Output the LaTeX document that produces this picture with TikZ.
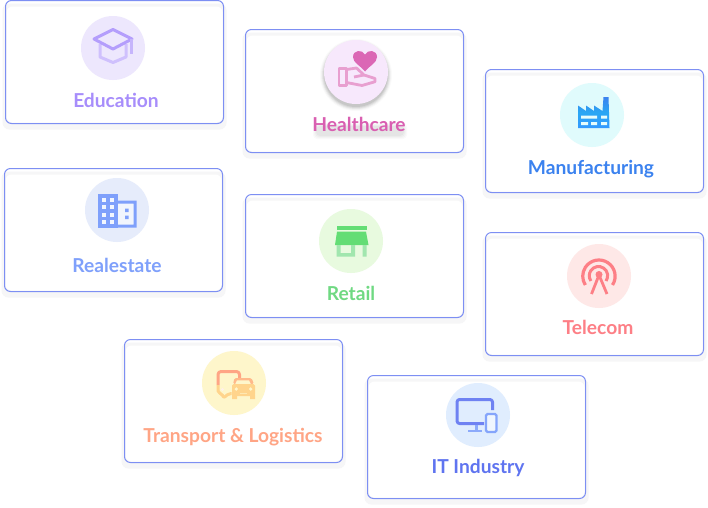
\documentclass[tikz,border=0pt]{standalone}
\usepackage{fontspec}
\setmainfont{Lato}
\definecolor{cardblue}{HTML}{7D8FF3}
\definecolor{halo}{HTML}{F6F6F7}
\definecolor{discEdu}{HTML}{EDE7FD}
\definecolor{discHea}{HTML}{F7E8FC}
\definecolor{discMan}{HTML}{E0FBFC}
\definecolor{discRea}{HTML}{E6ECFB}
\definecolor{discRet}{HTML}{E8FADF}
\definecolor{discTel}{HTML}{FEE8E7}
\definecolor{discTra}{HTML}{FEF6CB}
\definecolor{discIT}{HTML}{E0EDFE}
\definecolor{txtEdu}{HTML}{A78DFB}
\definecolor{txtHea}{HTML}{D95FB1}
\definecolor{txtMan}{HTML}{3B82EF}
\definecolor{txtRea}{HTML}{7FA0FB}
\definecolor{txtRet}{HTML}{6FD982}
\definecolor{txtTel}{HTML}{FD7F86}
\definecolor{txtTra}{HTML}{FFA585}
\definecolor{txtIT}{HTML}{5F74F0}
\definecolor{carTop}{HTML}{FFB98A}
\definecolor{carLow}{HTML}{FFD48C}
\tikzset{
  cardline/.style={draw=cardblue,line width=1pt,rounded corners=6pt},
  cardhalo/.style={fill=halo,rounded corners=7pt},
  disc/.style={circle,minimum size=64pt,inner sep=0pt,draw=none},
  cardlabel/.style={font=\fontsize{19.2}{21}\selectfont\bfseries,inner sep=0pt,anchor=base},
  iconline/.style={line width=2.6pt,line join=round,fill=none}
}
\newcommand{\cardbox}[4]{%
  \fill[white,rounded corners=6pt] (#1,#2) rectangle (#3,#4);
  \path[cardhalo] (#1-3,#2+3) rectangle (#3+3,#4+6);
  \fill[white,rounded corners=6pt] (#1+1,#2+6) rectangle (#3-1,#4-1);
  \path[cardline] (#1,#2) rectangle (#3,#4);
}
\begin{document}
\begin{tikzpicture}[x=1pt,y=-1pt]
\useasboundingbox (0,0) rectangle (708,507);
\fill[white] (0,0) rectangle (708,507);

% ---------- cards
\cardbox{5.5}{0.5}{223.5}{123.5}
\cardbox{245.5}{29.5}{463.5}{152.5}
\cardbox{485.5}{69.5}{703.5}{192.5}
\cardbox{4.5}{168.5}{222.5}{291.5}
\cardbox{245.5}{194.5}{463.5}{317.5}
\cardbox{485.5}{232.5}{703.5}{355.5}
\cardbox{124.5}{339.5}{342.5}{462.5}
\cardbox{367.5}{375.5}{585.5}{498.5}

% ---------- healthcare disc shadow
\foreach \r/\o in {36/.02,35/.03,34/.05,33/.06,32/.07}
  \fill[black,opacity=\o] (356,75) circle[radius=\r];

% ---------- discs
\node[disc,fill=discEdu] (dEdu) at (113,48) {};
\node[disc,fill=discHea] (dHea) at (356,72) {};
\node[disc,fill=discMan] (dMan) at (592,115) {};
\node[disc,fill=discRea] (dRea) at (117,210) {};
\node[disc,fill=discRet] (dRet) at (351,241) {};
\node[disc,fill=discTel] (dTel) at (599,276) {};
\node[disc,fill=discTra] (dTra) at (234,383) {};
\node[disc,fill=discIT]  (dIT)  at (478,415) {};

% ---------- Education icon
\begin{scope}[shift={(113,48)}]
  \draw[iconline,draw=txtEdu!55!white,line width=3pt] (-13,-4) -- (-13,9) -- (0,14.5) -- (13,9) -- (13,-4);
  \draw[iconline,draw=txtEdu!85!white,line width=3pt,miter limit=10] (-19,-9) -- (0,-18.5) -- (19,-9) -- (0,1) -- cycle;
  \draw[iconline,draw=txtEdu!65!white,line width=3pt] (18.5,-9) -- (18.5,6);
\end{scope}

% ---------- Healthcare icon
\begin{scope}[shift={(356,72)}]
  \fill[txtHea!95!white] (9,-0.5) .. controls (5,-6) and (-3,-9) .. (-3,-15)
     .. controls (-3,-22) and (6,-23) .. (9,-17.5)
     .. controls (12,-23) and (21,-22) .. (21,-15)
     .. controls (21,-9) and (13,-6) .. (9,-0.5) -- cycle;
  \draw[iconline,draw=txtHea!60!white,line width=2.8pt] (-17,-3.5) rectangle (-9.5,13.5);
  \draw[iconline,draw=txtHea!60!white,line width=2.8pt]
     (-9.5,-2.5) -- (0.5,-4) -- (8,3) -- (19,6.5) -- (19,9.7) -- (6,13.5) -- (-9.5,10.5);
  \draw[iconline,draw=txtHea!60!white,line width=2.8pt] (-2,5) -- (8,3);
\end{scope}

% ---------- Manufacturing icon
\begin{scope}[shift={(592,115)}]
  \shade[top color=txtMan,bottom color=cyan!50!blue!80!white,middle color=txtMan!70!cyan]
     (-14,-9.5) -- (-6,-4) -- (-6,-9.5) -- (2,-4) -- (2,-9.5) -- (10.5,-4)
     -- (11.5,-18) -- (16.5,-18) -- (17.5,13) -- (-14,13) -- cycle;
  \fill[discMan!85!white] (-11,0.5) rectangle (5,3.5) (9,0.5) rectangle (15,3.5)
     (-11,7) rectangle (-4,10) (-1,7) rectangle (5,10) (9,7) rectangle (15,10);
\end{scope}

% ---------- Realestate icon
\begin{scope}[shift={(117,210)}]
  \fill[discRea!55!white] (0,-9) rectangle (19,17);
  \fill[txtRea] (0,-9.5) rectangle (19.5,-6.5) (16.5,-9.5) rectangle (19.5,17.5) (0,14.5) rectangle (19.5,17.5);
  \fill[txtRea] (-18.7,-16) rectangle (0.5,17.5);
  \foreach \px in {-15.5,-7.5}
    \foreach \py in {-12.5,-5,2.5,10}
      \fill[white!90!txtRea] (\px,\py) rectangle ++(4,4);
  \foreach \py in {-5,2.5,10}
    \fill[discRea!55!white] (0.5,\py) rectangle ++(3.5,4);
  \fill[txtRea] (8,-1.5) rectangle ++(3.5,3.5) (8,5.5) rectangle ++(3.5,3.5);
\end{scope}

% ---------- Retail icon
\begin{scope}[shift={(351,241)}]
  \fill[txtRet!90!green] (-14.5,-15) rectangle (16,-11);
  \fill[txtRet!90!green] (-14,-9.3) -- (15,-9.3) -- (17.5,4) -- (-16,4) -- cycle;
  \fill[txtRet!65!white] (-14.5,4) rectangle (-10.5,15.5)
     (-14.5,12) rectangle (4,15.5) (0,4) rectangle (4,15.5) (11.5,4) rectangle (15.5,15.5);
\end{scope}

% ---------- Telecom icon
\begin{scope}[shift={(599,276)}]
  \draw[draw=txtTel,line width=3.2pt] (13.5,9) arc[start angle=33,end angle=-213,radius=16.2];
  \draw[draw=txtTel,line width=3pt] (7,5) arc[start angle=35,end angle=-215,radius=9.2];
  \fill[txtTel] (0,-1.5) circle[radius=3.5];
  \draw[draw=txtTel,line width=2.8pt] (-7.5,18) -- (0,-1) -- (8,18);
\end{scope}

% ---------- Transport icon
\begin{scope}[shift={(234,383)}]
  \draw[iconline,draw=txtTra,line width=3pt,rounded corners=3pt]
     (5.5,-4) -- (5.5,-11.5) -- (-16,-11.5) -- (-16,2);
  \draw[iconline,draw=carLow,line width=3pt,rounded corners=2pt]
     (-16,2) -- (-16,10) -- (-12,10.5) -- (-10.5,15) -- (-5,10.5) -- (-2.5,10.5);
  \fill[white!80!carTop] (-11.5,6.5) circle[radius=1.6];
  \fill[carTop,rounded corners=1.5pt] (0.5,-5) -- (17.5,-5) -- (20,1) -- (-1,1) -- cycle;
  \fill[discTra] (3,-2.6) -- (15,-2.6) -- (17,1.5) -- (1,1.5) -- cycle;
  \fill[carLow,rounded corners=1.5pt] (-2,1) rectangle (21,13);
  \fill[carLow] (-2,12) rectangle (3,16) (16,12) rectangle (21,16);
  \fill[discTra] (2.3,6) circle[radius=1.8] (16.7,6) circle[radius=1.8];
  \fill[discTra!60!carLow] (6,9.5) rectangle (13,11);
\end{scope}

% ---------- IT icon
\begin{scope}[shift={(478,415)}]
  \draw[iconline,draw=txtIT!90!white,line width=3pt,rounded corners=2.5pt]
     (6,8.5) -- (-21,8.5) -- (-21,-15.5) -- (14.5,-15.5) -- (14.5,-5);
  \fill[txtRea!90!white] (-3.5,10) rectangle (0,15);
  \fill[txtRea!90!white] (-10,15) rectangle (4,17);
  \fill[discIT!50!white] (8,-1) rectangle (18,17);
  \draw[draw=txtRea!95!white,line width=2.2pt,rounded corners=1.5pt] (8,-1) rectangle (18.5,17);
\end{scope}

% ---------- Healthcare text shadow (soft patch, no duplicate text)
\foreach \i/\o in {0/.018,1/.022,2/.026,3/.03}
  \fill[black,opacity=\o,rounded corners=4pt]
    (313+\i,123+\i) rectangle (407-\i,139-\i);

% ---------- labels
\node[cardlabel,text=txtEdu] (lEdu) at (116,107.5) {Education};
\node[cardlabel,text=txtHea] (lHea) at (359,131.5) {Healthcare};
\node[cardlabel,text=txtMan] (lMan) at (591,174.5) {Manufacturing};
\node[cardlabel,text=txtRea] (lRea) at (117,272.5) {Realestate};
\node[cardlabel,text=txtRet] (lRet) at (351,300) {Retail};
\node[cardlabel,text=txtTel] (lTel) at (598,334.5) {Telecom};
\node[cardlabel,text=txtTra] (lTra) at (233,442.5) {Transport \& Logistics};
\node[cardlabel,text=txtIT]  (lIT)  at (478,473.5) {IT Industry};
\end{tikzpicture}
\end{document}
